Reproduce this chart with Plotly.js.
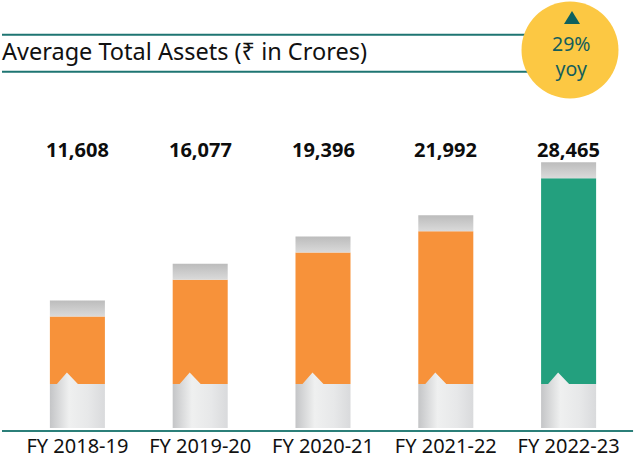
<!DOCTYPE html>
<html>
<head>
<meta charset="utf-8">
<script src="https://cdn.plot.ly/plotly-3.0.1.min.js"></script>
<style>
  html, body { margin: 0; padding: 0; background: #ffffff; }
  #chart { width: 637px; height: 465px; }
</style>
</head>
<body>
<div id="chart"></div>
<script>
// ---- data ----
const categories = ['FY 2018-19', 'FY 2019-20', 'FY 2020-21', 'FY 2021-22', 'FY 2022-23'];
const values = [11608, 16077, 19396, 21992, 28465];
const barColors = ['#f7923a', '#f7923a', '#f7923a', '#f7923a', '#23a07e'];
const chartTitle = 'Average Total Assets (₹ in Crores)';
const growthValue = '29%';
const growthLabel = 'yoy';

// ---- styling constants (axis units) ----
const Y_MAX = 40000;     // y axis range top
const OFFSET = 3950;     // decorative extra height added to every column
const BASE = 5370;       // grey plinth height
const CAP = 1950;        // grey cap height
const NOTCH_H = 1400;    // plinth arrow height
const BAR_W = 0.448;     // column width in category units

const idx = categories.map((_, i) => i);
const tops = values.map(v => v + OFFSET);

const traces = [];

// coloured body of each column
traces.push({
  type: 'bar',
  x: idx,
  y: tops.map(t => t - CAP - BASE),
  base: BASE,
  width: BAR_W,
  marker: { color: barColors, line: { width: 0 } },
  hoverinfo: 'skip'
});

// grey plinth with arrow notch, one polygon per column
idx.forEach(i => {
  const l = i - BAR_W / 2, r = i + BAR_W / 2;
  traces.push({
    type: 'scatter', mode: 'none', fill: 'toself',
    x: [l, r, r, l + 0.228, l + 0.1385, l + 0.057, l, l],
    y: [0, 0, BASE, BASE, BASE + NOTCH_H, BASE, BASE, 0],
    fillcolor: '#e6e7e8',
    fillgradient: {
      type: 'horizontal',
      colorscale: [[0, '#c4c5c7'], [0.35, '#eff0f0'], [0.7, '#e7e8e9'], [1, '#d9dadc']]
    },
    hoverinfo: 'skip'
  });
});

// grey cap on each column
idx.forEach(i => {
  const l = i - BAR_W / 2, r = i + BAR_W / 2;
  traces.push({
    type: 'scatter', mode: 'none', fill: 'toself',
    x: [l, r, r, l, l],
    y: [tops[i] - CAP, tops[i] - CAP, tops[i], tops[i], tops[i] - CAP],
    fillcolor: '#c9c9c9',
    fillgradient: {
      type: 'vertical',
      colorscale: [[0, '#dadada'], [1, '#bcbcbc']]
    },
    hoverinfo: 'skip'
  });
});

const valueAnnotations = values.map((v, i) => ({
  x: i, xref: 'x', y: 0.8476, yref: 'paper',
  text: '<b>' + v.toLocaleString('en-US') + '</b>',
  showarrow: false, xanchor: 'center', yanchor: 'middle',
  font: { family: 'Open Sans, sans-serif', size: 20, color: '#0d0d0d' }
}));

const layout = {
  width: 637, height: 465,
  margin: { l: 16, r: 7, t: 100, b: 37 },
  paper_bgcolor: '#ffffff', plot_bgcolor: '#ffffff',
  showlegend: false,
  title: {
    text: chartTitle,
    x: 2 / 637, xanchor: 'left', xref: 'container',
    y: 1 - 52 / 465, yanchor: 'middle', yref: 'container',
    font: { family: 'Noto Sans, sans-serif', size: 23.5, color: '#111111' }
  },
  xaxis: {
    range: [-0.5, 4.5], tickvals: idx, ticktext: categories,
    showgrid: false, zeroline: false, showline: false, ticks: '',
    ticklabelstandoff: 4,
    fixedrange: true,
    tickfont: { family: 'Noto Sans, sans-serif', size: 20, color: '#111111' }
  },
  yaxis: {
    range: [0, Y_MAX], visible: false, fixedrange: true
  },
  shapes: [
    { type: 'line', xref: 'paper', yref: 'paper', x0: -0.0228, x1: 0.86, y0: 1.1991, y1: 1.1991,
      line: { color: '#1e7572', width: 2 } },
    { type: 'line', xref: 'paper', yref: 'paper', x0: -0.0228, x1: 0.86, y0: 1.0863, y1: 1.0863,
      line: { color: '#1e7572', width: 2 } },
    { type: 'line', xref: 'paper', yref: 'paper', x0: -0.0228, x1: 1.005, y0: -0.0091, y1: -0.0091,
      line: { color: '#2b7f79', width: 2 } },
    { type: 'circle', xref: 'paper', yref: 'paper', xsizemode: 'pixel', ysizemode: 'pixel',
      xanchor: (570 - 16) / 614, yanchor: (428 - 50) / 328,
      x0: -48.5, x1: 48.5, y0: -48.5, y1: 48.5,
      fillcolor: '#fcc843', line: { width: 0 } },
    { type: 'path', xref: 'paper', yref: 'paper', xsizemode: 'pixel', ysizemode: 'pixel',
      xanchor: (572 - 16) / 614, yanchor: (428 - 24) / 328,
      path: 'M -8 0 L 8 0 L 0 13 Z',
      fillcolor: '#0e605e', line: { width: 0 } }
  ],
  annotations: valueAnnotations.concat([
    { x: (571 - 16) / 614, xref: 'paper', y: (428 - 56) / 328, yref: 'paper',
      text: growthValue + '<br>' + growthLabel, showarrow: false,
      xanchor: 'center', yanchor: 'middle', align: 'center',
      font: { family: 'Noto Sans, sans-serif', size: 19.5, color: '#135e5c' } }
  ])
};

Plotly.newPlot('chart', traces, layout, { displayModeBar: false, staticPlot: true });
</script>
</body>
</html>
